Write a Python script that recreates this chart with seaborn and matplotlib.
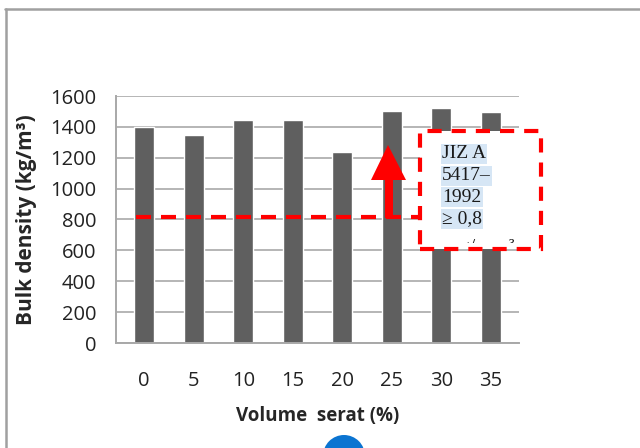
import matplotlib
matplotlib.use("Agg")
import matplotlib.pyplot as plt
import matplotlib.patches as mpatches
from matplotlib.lines import Line2D
import seaborn as sns
import pandas as pd

# data
volume_serat = ["0", "5", "10", "15", "20", "25", "30", "35"]
bulk_density = [1400, 1345, 1445, 1445, 1237, 1505, 1520, 1494]
standard_line = 815
y_ticks = [0, 200, 400, 600, 800, 1000, 1200, 1400, 1600]
note_lines = ["JIZ A", "5417–", "1992", "≥ 0,8"]

W, H = 640, 448


def px(x, y):
    # pixel position (from top-left) -> figure fraction
    return x / W, 1 - y / H


sns.set_style("white")
plt.rcParams["font.family"] = ["Open Sans", "DejaVu Sans"]

df = pd.DataFrame({"volume": volume_serat, "density": bulk_density})

fig = plt.figure(figsize=(6.4, 4.48), dpi=100)
ax = fig.add_axes([116 / W, 1 - 343 / H, (519 - 116) / W, (343 - 96) / H])

sns.barplot(df, x="volume", y="density", order=volume_serat, color="#5f5f5f",
            saturation=1, width=0.4, ax=ax, zorder=2)

ax.set_ylim(0, 1600)
ax.set_yticks(y_ticks)
ax.yaxis.grid(True, color="#b5b5b5", lw=1.4, zorder=0)
ax.set_axisbelow(True)
for s in ["top", "right"]:
    ax.spines[s].set_visible(False)
ax.spines["left"].set_color("#a8a8a8")
ax.spines["bottom"].set_color("#a8a8a8")
ax.spines["left"].set_lw(1.4)
ax.spines["bottom"].set_lw(1.4)
ax.tick_params(axis="y", length=5, width=1.4, color="#a8a8a8", pad=9,
               labelsize=14.5, labelcolor="#222222")
ax.tick_params(axis="x", length=0, pad=20, labelsize=14.5, labelcolor="#222222")

ax.set_xlabel("Volume  serat (%)", fontsize=13.5, fontweight="bold", va="center")
ax.set_ylabel("Bulk density (kg/m³)", fontsize=15, fontweight="bold",
              va="center")
ax.yaxis.set_label_coords(-(116 - 27) / (519 - 116), 0.5)
ax.xaxis.set_label_coords(0.5, -(416 - 343) / (343 - 96))

# standard threshold line
ax.hlines(standard_line, -0.16, 5.6, colors="red", lw=3,
          linestyles=(0, (3.6, 2.4)), zorder=3)

# arrow pointing up from the threshold line
arrow = mpatches.Polygon(
    [px(385, 218), px(393, 218), px(393, 180), px(406, 180), px(388, 145),
     px(371, 180), px(385, 180)],
    closed=True, transform=fig.transFigure, facecolor="red", edgecolor="none",
    zorder=5)
fig.patches.append(arrow)

# dashed note box
x0, y0 = px(420, 249)
x1, y1 = px(541, 131)
box = mpatches.Rectangle((x0, y0), x1 - x0, y1 - y0, transform=fig.transFigure,
                         facecolor="white", edgecolor="red", lw=3,
                         linestyle=(0, (3.4, 2.4)), zorder=4)
fig.patches.append(box)

line_y = [154, 176, 197, 219]
for txt, yy in zip(note_lines, line_y):
    fig.text(*px(442, yy), txt, family="Liberation Serif", fontsize=14,
             color="#1a1a1a", va="center", ha="left", zorder=6,
             bbox=dict(facecolor="#d6e6f5", edgecolor="none", pad=1))

# the next line of the note is clipped by the box
clip = mpatches.Rectangle(px(420, 243), (541 - 420) / W, 30 / H,
                          transform=fig.transFigure, visible=False)
fig.patches.append(clip)
t = fig.text(*px(460, 247), "g/cm  ³", family="Liberation Serif", fontsize=14,
             color="#1a1a1a", va="center", ha="left", zorder=6)
t.set_clip_path(clip)

# outer frame
fig.lines.append(Line2D([5 / W, 1], [1 - 9 / H] * 2, transform=fig.transFigure,
                        color="#a0a0a0", lw=1.8))
fig.lines.append(Line2D([6 / W] * 2, [0, 1 - 9 / H], transform=fig.transFigure,
                        color="#a0a0a0", lw=1.8))

# blue dot at the bottom edge
dot = mpatches.Ellipse(px(344, 456), 42 / W, 42 / H, transform=fig.transFigure,
                       facecolor="#0b74d1", edgecolor="none")
fig.patches.append(dot)

fig.savefig("out.png", dpi=100)
